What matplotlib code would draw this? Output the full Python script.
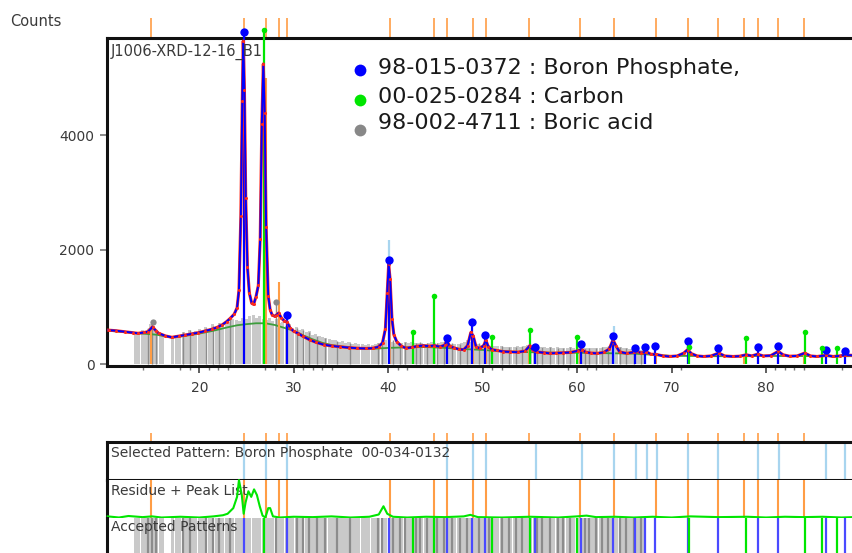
import matplotlib
matplotlib.use("Agg")
import matplotlib.pyplot as plt
from matplotlib.ticker import FixedLocator

# ---------------- data ----------------
# measured scan (2theta, counts)
theta_obs = [10.4, 11.2, 12.1, 13.0, 13.5, 14.2, 14.6, 15.05, 15.4, 15.7, 16.4, 17.1, 17.8, 18.5,
             19.2, 19.9, 20.6, 21.3, 21.9, 22.4, 22.9, 23.3, 23.7, 24.0, 24.2, 24.4, 24.55, 24.65,
             24.78, 24.92, 25.1, 25.3, 25.55, 25.75, 26.0, 26.25, 26.45, 26.62, 26.78, 26.92, 27.08,
             27.3, 27.5, 27.7, 28.0, 28.2, 28.4, 28.7, 29.0, 29.3, 29.6, 30.0, 30.5, 31.0, 31.7,
             32.4, 33.2, 34.0, 34.9, 35.8, 36.7, 37.6, 38.4, 39.0, 39.4, 39.7, 39.9, 40.05, 40.2,
             40.4, 40.6, 40.9, 41.4, 41.9, 42.5, 43.1, 43.7, 44.3, 44.9, 45.5, 46.0, 46.2, 46.5,
             47.0, 47.5, 48.0, 48.4, 48.75, 49.0, 49.3, 49.7, 50.1, 50.35, 50.6, 51.0, 51.5, 52.2,
             52.9, 53.7, 54.5, 55.0, 55.3, 55.8, 56.5, 57.1, 57.8, 58.5, 59.3, 60.1, 60.5, 60.9,
             61.5, 62.1, 62.8, 63.4, 63.8, 64.1, 64.5, 65.25, 66.0, 66.3, 66.8, 67.3, 67.8, 68.4,
             69.1, 69.8, 70.6, 71.3, 71.7, 72.1, 72.7, 73.4, 74.2, 75.0, 75.6, 76.5, 77.2, 77.9,
             78.5, 79.1, 79.7, 80.5, 81.3, 81.8, 82.5, 83.3, 84.1, 84.7, 85.4, 86.4, 87.1, 87.8,
             88.4, 89.2]
counts_obs = [600, 590, 573, 555, 545, 560, 575, 660, 590, 545, 500, 475, 495, 515,
              535, 555, 585, 615, 650, 690, 750, 810, 880, 990, 1300, 2600, 4600, 5650,
              4800, 2900, 1700, 1250, 1070, 1050, 1180, 1380, 2200, 4200, 5250, 4400, 2400,
              1200, 960, 870, 840, 870, 900, 810, 760, 740, 640, 580, 540, 490, 430,
              385, 345, 325, 310, 295, 285, 280, 285, 310, 380, 620, 1250, 1750, 1500,
              800, 520, 400, 320, 285, 300, 320, 330, 320, 330, 310, 340, 420, 320,
              290, 265, 260, 330, 560, 500, 310, 280, 330, 420, 310, 260, 245, 225,
              220, 215, 235, 330, 250, 220, 205, 195, 200, 205, 210, 240, 260, 215,
              200, 195, 210, 270, 430, 330, 220, 195, 215, 230, 200, 225, 180, 175,
              150, 140, 150, 200, 260, 190, 150, 140, 150, 200, 150, 140, 145, 170,
              150, 180, 150, 155, 230, 170, 145, 150, 200, 150, 140, 160, 140, 150,
              165, 160]

# broad background profile
theta_bg = [10.4, 12, 14, 15.5, 17.1, 18.5, 20, 21.5, 23, 24, 25, 26, 27, 28, 29, 30, 31, 32,
            33, 34, 35, 36, 37, 38.5, 40, 42, 44, 46, 48, 50, 52, 54, 56, 58, 60, 62, 64, 66,
            68, 70, 72, 74, 76, 78, 80, 82, 84, 86, 88, 89.2]
counts_bg = [590, 565, 540, 520, 470, 500, 540, 590, 650, 685, 705, 720, 720, 690, 640, 590,
             510, 440, 380, 340, 315, 295, 280, 275, 290, 300, 305, 290, 270, 255, 230, 220,
             210, 205, 205, 200, 195, 190, 170, 150, 150, 145, 145, 145, 150, 148, 148, 145,
             145, 145]

# 98-015-0372 : Boron Phosphate
bp_pos = [24.7, 29.3, 40.05, 46.2, 48.9, 50.3, 55.5, 60.4, 63.8, 66.1, 67.2, 68.3, 71.7,
          74.9, 79.2, 81.3, 86.4, 88.4]
bp_h = [5800, 870, 1830, 470, 740, 510, 300, 350, 506, 280, 297, 330, 407,
        280, 297, 330, 250, 230]

# 00-025-0284 : Carbon
c_pos = [26.85, 42.6, 44.9, 51.0, 55.0, 60.0, 71.8, 77.9, 84.1, 85.9, 87.5]
c_h = [5850, 560, 1190, 477, 594, 477, 300, 470, 565, 280, 280]

# 98-002-4711 : Boric acid (wide light lines and darker lines)
ba_pos = [13.3, 13.6, 13.95, 14.3, 14.6, 14.85, 15.15, 15.5, 15.85, 16.1,
          17.2, 17.55, 17.9, 18.3, 18.6, 19.0, 19.3, 19.65, 20.0, 20.35, 20.7, 21.05, 21.4,
          21.8, 22.1, 22.5, 22.85, 23.2, 23.55, 23.9, 24.25, 24.6, 25.0, 25.35, 25.7, 26.05,
          26.4, 26.75, 27.1, 27.45, 27.8, 28.15, 28.5, 28.85, 29.2, 29.55, 29.9, 30.25, 30.6,
          30.95, 31.3, 31.65, 32.0, 32.35, 32.7, 33.05, 33.4, 33.75, 34.1, 34.45, 34.8, 35.15,
          35.5, 35.85, 36.2, 36.55, 36.9, 37.25, 37.6, 37.95,
          38.3, 38.65, 39.0, 39.35, 39.7, 40.4, 40.75, 41.1, 41.45, 41.8, 42.15, 42.5, 42.85,
          43.2, 43.55, 43.9, 44.25, 44.6, 44.95, 45.3, 45.65, 46.0, 46.35, 46.7, 47.05, 47.4,
          47.75, 48.1, 48.45, 48.8, 49.15, 49.5, 49.85, 50.2, 50.55, 50.9, 51.25, 51.6, 51.95,
          52.3, 52.65, 53.0, 53.35, 53.7, 54.05, 54.4, 54.75, 55.1, 55.45, 55.8, 56.15, 56.5,
          56.85, 57.2, 57.55, 57.9, 58.25, 58.6, 58.95, 59.3, 59.65, 60.0, 60.35, 60.7, 61.05,
          61.4, 61.75, 62.1, 62.45, 62.8, 63.15, 63.5, 63.85, 64.2, 64.55, 64.9, 65.25, 65.6,
          65.95, 66.3, 66.65, 67.0]
ba_h = [540, 560, 600, 560, 620, 700, 680, 560, 520, 500,
        470, 520, 480, 560, 520, 600, 540, 580, 620, 580, 660, 620, 700,
        660, 720, 700, 760, 740, 800, 780, 760, 820, 800, 840, 860, 820,
        840, 800, 780, 820, 760, 800, 720, 740, 680, 700, 640, 660, 600,
        620, 560, 580, 520, 540, 500, 480, 460, 450, 430, 420, 400, 410,
        380, 390, 360, 380, 350, 360, 340, 350,
        340, 360, 380, 400, 420, 400, 380, 360, 380, 400, 380, 400, 380,
        370, 380, 360, 380, 400, 380, 370, 390, 400, 380, 360, 350, 360,
        380, 400, 420, 400, 380, 360, 340, 360, 340, 330, 320, 330, 320,
        310, 300, 310, 300, 320, 310, 330, 340, 330, 320, 300, 310, 300,
        290, 300, 290, 300, 290, 280, 290, 300, 290, 300, 290, 280, 290,
        280, 290, 280, 290, 300, 310, 330, 340, 320, 300, 290, 280, 270,
        280, 270, 260, 250]
ba_dark_pos = [14.6, 15.0, 15.4, 18.3, 19.0, 20.7, 21.4, 22.1, 23.3, 28.1, 30.3, 31.0, 31.6,
               32.5, 33.3, 34.6, 36.0, 38.9, 39.3, 40.5, 41.2, 41.8, 42.9, 43.4, 44.1, 45.2,
               45.9, 46.8, 47.6, 48.3, 49.6, 50.7, 52.0, 52.8, 53.5, 54.2, 55.8, 56.3, 57.1,
               58.0, 58.5, 59.2, 60.8, 61.3, 62.0, 62.6, 63.3, 64.5, 65.2, 66.0, 66.8]
ba_dark_h = [640, 750, 620, 560, 600, 640, 680, 720, 790, 1090, 640, 600, 560,
             500, 460, 410, 380, 380, 420, 420, 380, 400, 380, 390, 380, 380,
             400, 370, 360, 410, 370, 340, 320, 310, 300, 320, 300, 310, 300,
             290, 290, 300, 290, 290, 280, 300, 320, 300, 280, 270, 255]
ba_mark_pos = [15.05, 28.1]
ba_mark_h = [750, 1090]

# peak list
peak_pos = [14.9, 24.7, 27.05, 28.4, 29.3, 40.2, 44.8, 46.2, 49.0, 50.4, 54.9, 60.3, 63.9,
            68.4, 71.7, 74.9, 77.7, 79.2, 81.3, 84.0]
peak_h = [640, 5600, 5000, 1440, 740, 1500, 330, 420, 500, 420, 330, 250, 420,
          175, 260, 200, 170, 180, 230, 200]

# selected pattern: Boron Phosphate 00-034-0132
sel_pos = [24.76, 27.03, 29.32, 46.2, 49.0, 50.4, 55.6, 60.5, 63.9, 66.2, 67.4, 68.5, 71.7,
           74.9, 79.2, 81.4, 86.4, 88.4]
sel_main_pos = [40.1, 63.9]
sel_main_h = [2170, 680]

# residue (relative scale of the residue strip)
theta_res = [10.3, 11.5, 12.5, 14.0, 15.0, 16.0, 18.0, 20.0, 21.5, 22.5, 23.0, 23.6, 24.0,
             24.2, 24.5, 24.7, 24.9, 25.2, 25.5, 25.8, 26.1, 26.4, 26.7, 27.0, 27.3, 27.5,
             27.8, 28.5, 30.0, 32.0, 34.0, 36.0, 38.0, 39.0, 39.5, 39.9, 40.5, 42.0, 44.0,
             46.0, 48.0, 48.7, 49.5, 52.0, 55.0, 58.0, 60.0, 61.0, 62.0, 64.0, 66.0, 68.0,
             70.0, 72.0, 75.0, 78.0, 80.0, 82.0, 84.0, 86.0, 88.0, 89.2]
resid = [0.03, 0.0, 0.04, 0.01, 0.03, 0.0, 0.02, 0.0, 0.03, 0.06, 0.1, 0.25, 0.55,
         1.0, 0.6, 0.1, 0.4, 0.7, 0.55, 0.75, 0.6, 0.3, 0.05, 0.0, 0.25, 0.25,
         0.03, 0.0, 0.02, 0.01, 0.03, 0.0, 0.02, 0.08, 0.3, 0.1, 0.02, 0.0, 0.02,
         0.01, 0.03, 0.07, 0.01, 0.0, 0.02, 0.0, 0.03, 0.05, 0.01, 0.02, 0.0, 0.02,
         0.0, 0.03, 0.01, 0.02, 0.0, 0.02, 0.01, 0.02, 0.0, 0.01]

x_major = [20, 30, 40, 50, 60, 70, 80]
x_minor = [14, 18, 19, 21, 22, 23, 27, 28, 31, 32, 33, 34, 41, 42, 51, 52, 59, 61, 62, 71,
           81, 82, 83, 84, 88]
y_major = [0, 2000, 4000]

legend_labels = ["98-015-0372 : Boron Phosphate,", "00-025-0284 : Carbon",
                 "98-002-4711 : Boric acid"]

# ---------------- style ----------------
BLUE = "#0000ff"
GREEN = "#00e600"
GREEN_BG = "#3d9d3d"
RED = "#ff2a1a"
ORANGE = "#ff9d45"
LBLUE = "#a8d5ef"
GRAY_L = "#c9c9c9"
GRAY_D = "#8c8c8c"
GRAY_M = "#888888"
TXT = "#3a3a3a"

W, H = 853, 553
X0, X1 = 10.23, 89.21

plt.rcParams["font.family"] = ["DejaVu Sans"]
fig = plt.figure(figsize=(W / 100, H / 100), dpi=100)


def px_rect(x0, y0, x1, y1):
    return [x0 / W, 1 - y1 / H, (x1 - x0) / W, (y1 - y0) / H]


def fx(x):
    return x / W


def fy(y):
    return 1 - y / H


def frame(a, sides, lw=2.2):
    for s in ("top", "bottom", "left", "right"):
        a.spines[s].set_visible(s in sides)
        a.spines[s].set_linewidth(lw)
        a.spines[s].set_color("#111111")


# ---------------- main pattern ----------------
ax = fig.add_axes(px_rect(107, 38, 853, 365.7))
ax.set_xlim(X0, X1)
ax.set_ylim(-21, 5703)
frame(ax, ("top", "bottom", "left"))

ax.bar(ba_pos, ba_h, width=0.32, color=GRAY_L, linewidth=0, zorder=1)
ax.vlines(ba_dark_pos, 0, ba_dark_h, color=GRAY_D, lw=1.0, zorder=1.5)
ax.plot(theta_bg, counts_bg, color=GREEN_BG, lw=1.3, zorder=2)
ax.vlines(peak_pos, 0, peak_h, color=ORANGE, lw=1.5, zorder=2.4)
ax.vlines(sel_main_pos, 0, sel_main_h, color=LBLUE, lw=1.6, zorder=2.5)
ax.vlines(bp_pos, 0, bp_h, color=BLUE, lw=1.6, zorder=3, clip_on=False)
ax.vlines(c_pos, 0, c_h, color=GREEN, lw=1.6, zorder=3, clip_on=False)
ax.plot(theta_obs, counts_obs, color=RED, lw=2.2, zorder=4)
ax.plot(theta_obs, counts_obs, color=BLUE, lw=1.4, zorder=4.5)
ax.plot(theta_obs, counts_obs, ls="none", marker="o", ms=2.2, color=RED, mew=0, zorder=5)
ax.plot(ba_mark_pos, ba_mark_h, ls="none", marker="o", ms=4.5, color=GRAY_M, mew=0, zorder=6)
ax.plot(bp_pos, bp_h, ls="none", marker="o", ms=6, color=BLUE, mew=0, zorder=6, clip_on=False)
ax.plot(c_pos, c_h, ls="none", marker="o", ms=4, color=GREEN, mew=0, zorder=6, clip_on=False)

# peak-list marks above the frame
ax.vlines(peak_pos, 1.0, 1.061, transform=ax.get_xaxis_transform(), color=ORANGE,
          lw=1.2, clip_on=False, zorder=0)

ax.xaxis.set_major_locator(FixedLocator(x_major))
ax.xaxis.set_minor_locator(FixedLocator(x_minor))
ax.yaxis.set_major_locator(FixedLocator(y_major))
ax.tick_params(axis="x", which="major", length=5, width=1.2, color="#444444",
               labelsize=10, labelcolor=TXT, pad=6)
ax.tick_params(axis="x", which="minor", length=3, width=1, color="#777777")
ax.tick_params(axis="y", length=5, width=1.2, color="#777777", labelsize=10,
               labelcolor=TXT, pad=4)

fig.text(fx(10), fy(22), "Counts", fontsize=10.5, color=TXT, va="center", ha="left")
fig.text(fx(111), fy(52), "J1006-XRD-12-16_B1", fontsize=10.5, color=TXT,
         va="center", ha="left", zorder=10)

# legend
leg_colors = [BLUE, GREEN, GRAY_M]
leg_text_y = [68, 97, 123]
leg_mark_y = [70, 100, 130]
for lab, col, ty, my in zip(legend_labels, leg_colors, leg_text_y, leg_mark_y):
    fig.text(fx(378), fy(ty), lab, fontsize=16, color="#1a1a1a", va="center", ha="left")
    fig.lines.append(plt.Line2D([fx(360)], [fy(my)], transform=fig.transFigure,
                                marker="o", ms=8.5, color=col, mew=0, ls="none"))

# ---------------- selected pattern strip ----------------
s1 = fig.add_axes(px_rect(107, 442, 853, 480))
s1.set_xlim(X0, X1)
s1.set_ylim(0, 1)
frame(s1, ("top", "bottom", "left"))
s1.set_xticks([])
s1.set_yticks([])
s1.vlines(sel_pos, 0, 1, color=LBLUE, lw=1.6)
s1.vlines(peak_pos, 1.0, 1.24, color=ORANGE, lw=1.2, clip_on=False, zorder=0)
s1.text(0.006, 0.7, "Selected Pattern: Boron Phosphate  00-034-0132", transform=s1.transAxes,
        fontsize=10, color=TXT, va="center", ha="left")

# ---------------- residue + peak list strip ----------------
s2 = fig.add_axes(px_rect(107, 480, 853, 517.5))
s2.set_xlim(X0, X1)
s2.set_ylim(0, 1)
frame(s2, ("left",))
s2.set_xticks([])
s2.set_yticks([])
s2.vlines(peak_pos, 0, 1, color=ORANGE, lw=1.5)
s2.plot(theta_res, resid, color=GREEN, lw=1.5, clip_on=False, zorder=5)
s2.text(0.006, 0.7, "Residue + Peak List", transform=s2.transAxes,
        fontsize=10, color=TXT, va="center", ha="left")

# ---------------- accepted patterns strip ----------------
s3 = fig.add_axes(px_rect(107, 517.5, 853, 556))
s3.set_xlim(X0, X1)
s3.set_ylim(0, 1)
frame(s3, ("left",))
s3.set_xticks([])
s3.set_yticks([])
s3.bar(ba_pos, [1] * len(ba_pos), width=0.32, color=GRAY_L, linewidth=0, zorder=1)
s3.vlines(ba_dark_pos, 0, 1, color=GRAY_D, lw=1.6, zorder=1.5)
s3.vlines(bp_pos, 0, 1, color="#4a4aff", lw=1.6, zorder=2)
s3.vlines(c_pos, 0, 1, color=GREEN, lw=1.6, zorder=2)
s3.text(0.006, 0.75, "Accepted Patterns", transform=s3.transAxes,
        fontsize=10, color=TXT, va="center", ha="left", zorder=5)

fig.savefig("out.png", dpi=100)
